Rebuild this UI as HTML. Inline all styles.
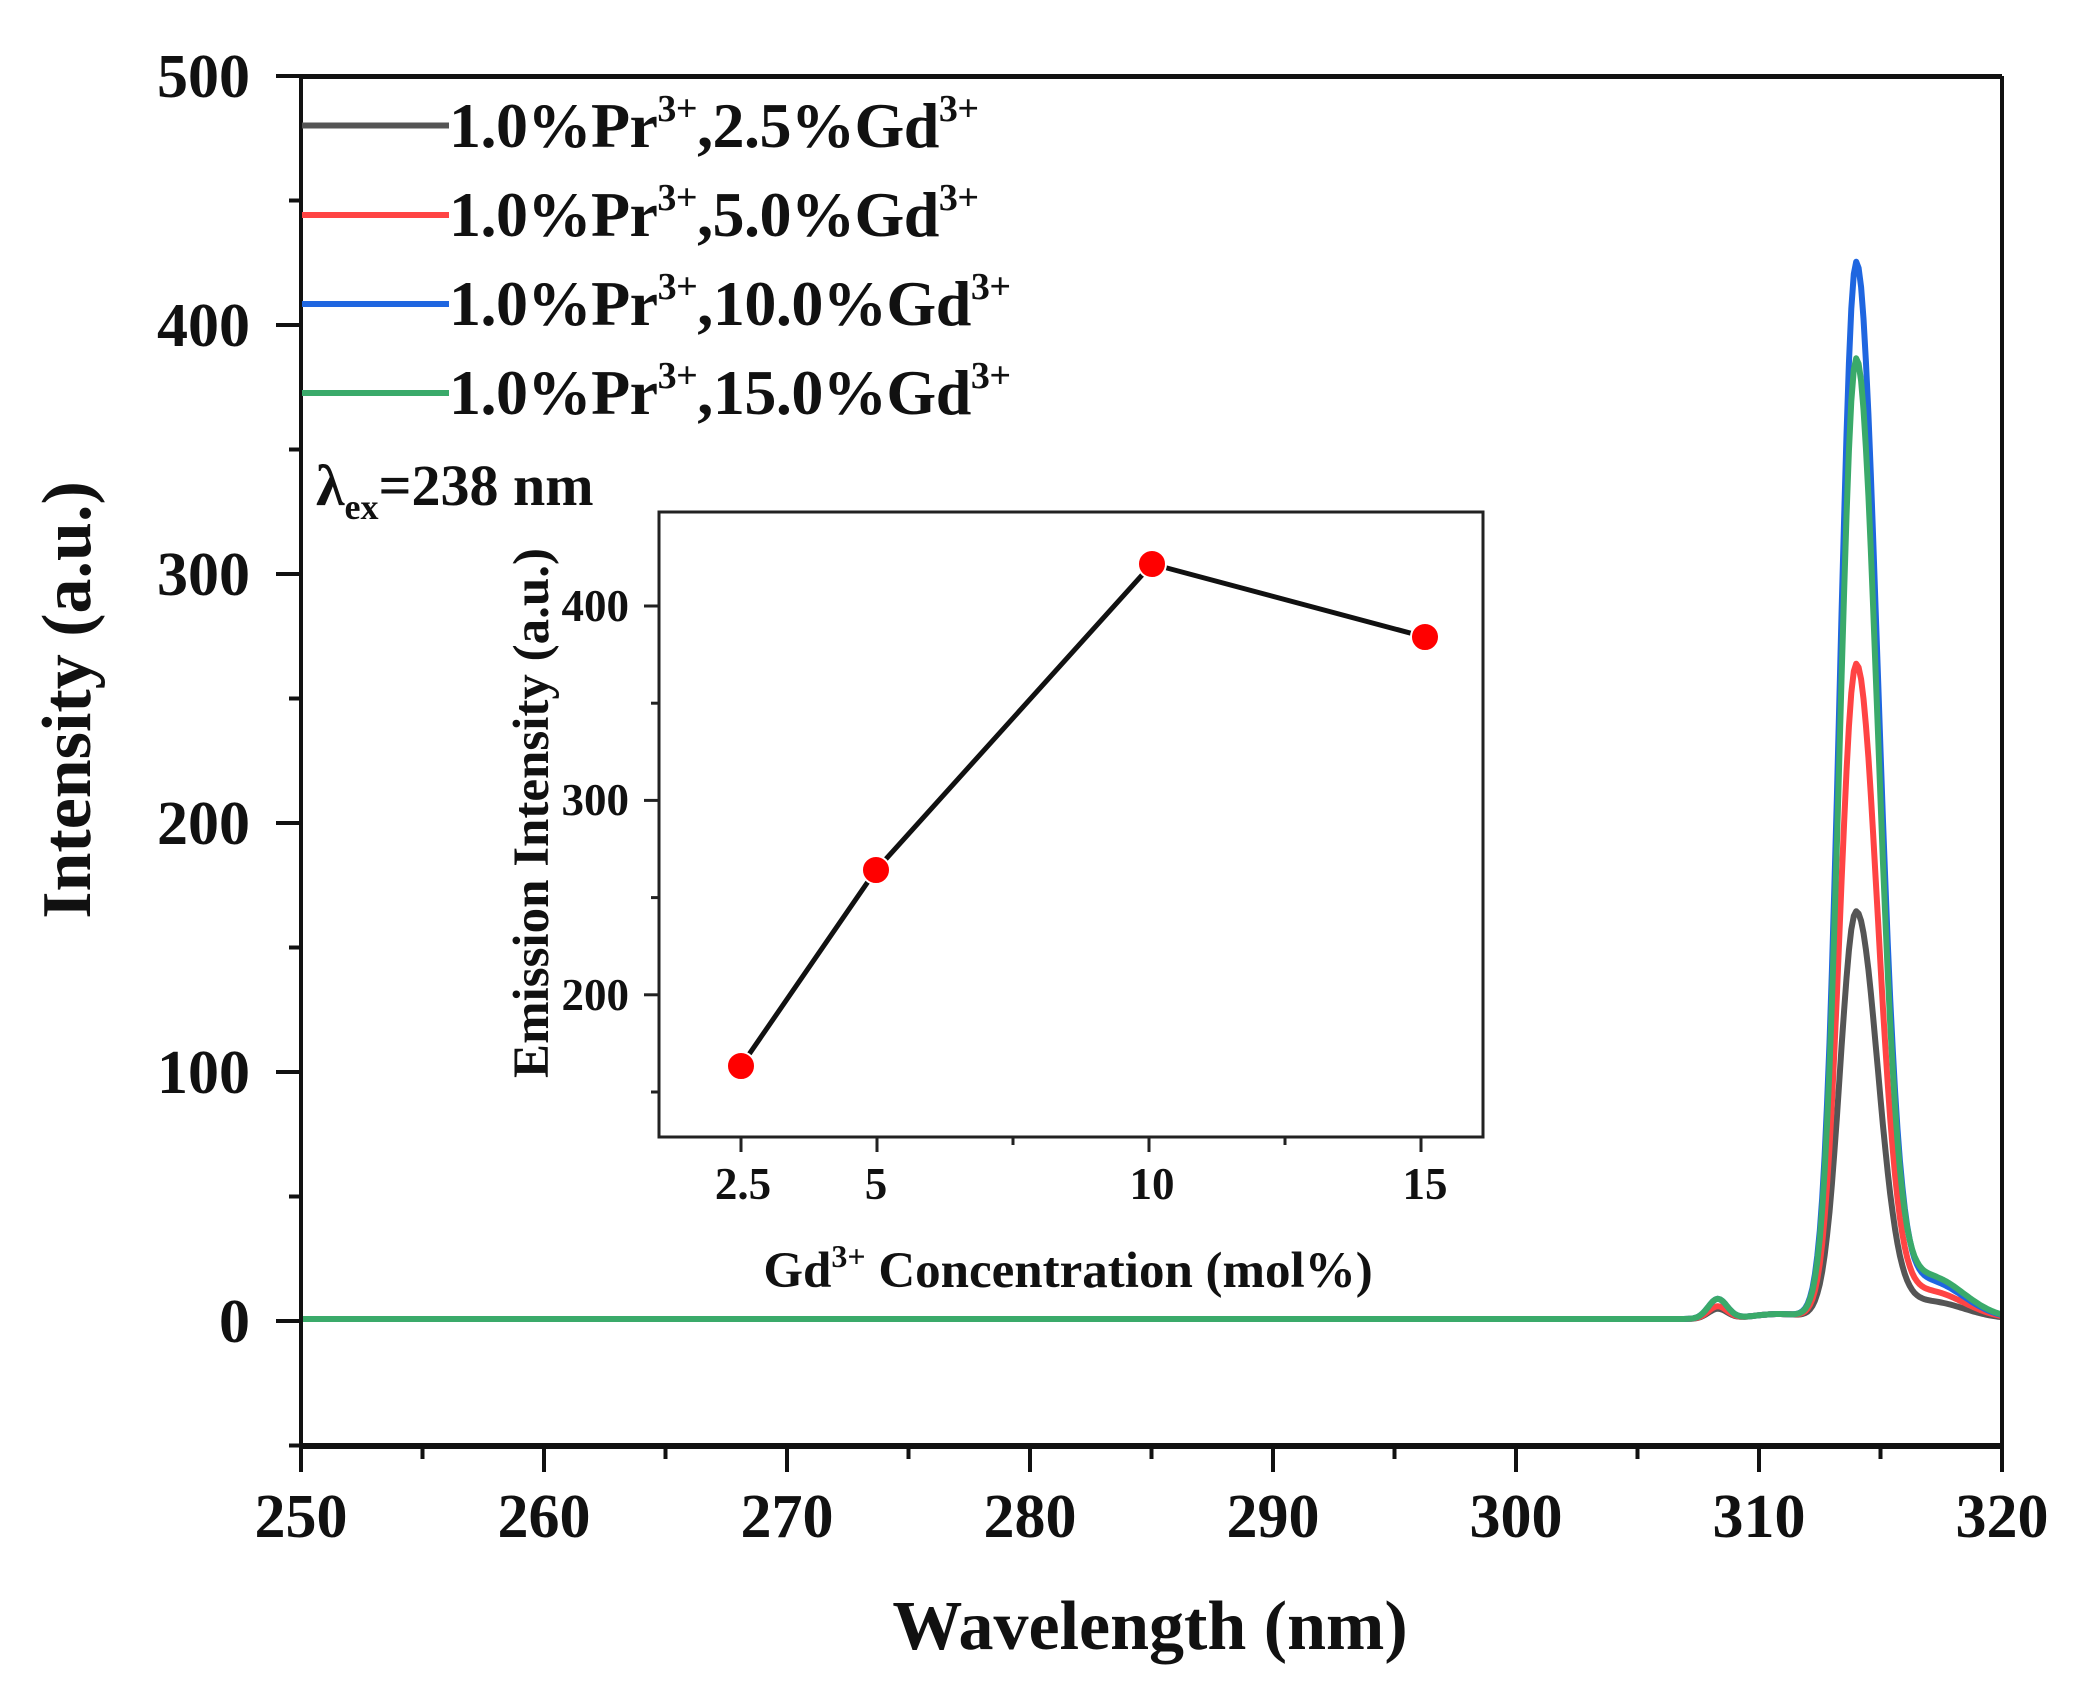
<!DOCTYPE html>
<html><head><meta charset="utf-8"><style>
html,body{margin:0;padding:0;background:#fff;}
svg{display:block;}
text{font-family:"Liberation Serif",serif;font-weight:bold;fill:#111;}
</style></head><body>
<svg id="s" width="2076" height="1692" viewBox="0 0 2076 1692" xmlns="http://www.w3.org/2000/svg">
<rect width="2076" height="1692" fill="#fff"/>
<g id="curves" fill="none" stroke-width="6" stroke-linejoin="round"></g>
<line x1="301" y1="76.5" x2="2002" y2="76.5" stroke="#111" stroke-width="5"/>
<line x1="2002" y1="76" x2="2002" y2="1448" stroke="#111" stroke-width="4"/>
<line x1="301" y1="76" x2="301" y2="1448" stroke="#111" stroke-width="4"/>
<line x1="299" y1="1446" x2="2004" y2="1446" stroke="#111" stroke-width="6"/>
<g id="ticks" stroke="#111" stroke-width="4"></g>
<g id="labels" font-size="62"></g>
<text x="0" y="0" font-size="70" text-anchor="middle" transform="translate(1150,1649)">Wavelength (nm)</text>
<text x="0" y="0" font-size="70" text-anchor="middle" transform="translate(90,700) rotate(-90)">Intensity (a.u.)</text>
<g stroke-width="6">
<line x1="302" y1="125.5" x2="449" y2="125.5" stroke="#555"/>
<line x1="302" y1="215" x2="449" y2="215" stroke="#f44"/>
<line x1="302" y1="304" x2="449" y2="304" stroke="#1f66e0"/>
<line x1="302" y1="393" x2="449" y2="393" stroke="#3aaa6a"/>
</g>
<g font-size="64">
<text x="449" y="147" textLength="530">1.0%Pr<tspan font-size="38" dy="-26">3+</tspan><tspan dy="26">,2.5%Gd</tspan><tspan font-size="38" dy="-26">3+</tspan></text>
<text x="449" y="236" textLength="530">1.0%Pr<tspan font-size="38" dy="-26">3+</tspan><tspan dy="26">,5.0%Gd</tspan><tspan font-size="38" dy="-26">3+</tspan></text>
<text x="449" y="325" textLength="562">1.0%Pr<tspan font-size="38" dy="-26">3+</tspan><tspan dy="26">,10.0%Gd</tspan><tspan font-size="38" dy="-26">3+</tspan></text>
<text x="449" y="414" textLength="562">1.0%Pr<tspan font-size="38" dy="-26">3+</tspan><tspan dy="26">,15.0%Gd</tspan><tspan font-size="38" dy="-26">3+</tspan></text>
</g>
<text x="316" y="505" font-size="58">λ<tspan font-size="36" dy="14">ex</tspan><tspan dy="-14">=238 nm</tspan></text>
<rect x="659" y="512" width="824" height="625" fill="none" stroke="#222" stroke-width="3"/>
<g id="itk" stroke="#222" stroke-width="3"></g>
<g font-size="45">
<text x="743" y="1199" text-anchor="middle">2.5</text>
<text x="876" y="1199" text-anchor="middle">5</text>
<text x="1152" y="1199" text-anchor="middle">10</text>
<text x="1425" y="1199" text-anchor="middle">15</text>
<text x="629" y="621" text-anchor="end">400</text>
<text x="629" y="815" text-anchor="end">300</text>
<text x="629" y="1010" text-anchor="end">200</text>
</g>
<text x="1068" y="1287" font-size="51" text-anchor="middle">Gd<tspan font-size="32" dy="-20">3+</tspan><tspan dy="20"> Concentration (mol%)</tspan></text>
<text x="0" y="0" font-size="51" text-anchor="middle" transform="translate(548,813) rotate(-90)">Emission Intensity (a.u.)</text>
<polyline points="741,1066 876,870 1152,564 1425,637" fill="none" stroke="#111" stroke-width="5"/>
<g fill="#f00" stroke="#fff" stroke-width="2">
<circle cx="741" cy="1066" r="14"/><circle cx="876" cy="870" r="14"/><circle cx="1152" cy="564" r="14"/><circle cx="1425" cy="637" r="14"/>
</g>
</svg>
<script>
var NS="http://www.w3.org/2000/svg";
function X(nm){return 301+(nm-250)*24.3;}
function Y(v){return 1321-v*2.49;}
function el(p,t,a){var e=document.createElementNS(NS,t);for(var k in a)e.setAttribute(k,a[k]);p.appendChild(e);return e;}
var tk=document.getElementById('ticks'),lb=document.getElementById('labels');
for(var n=250;n<=320;n+=5){var maj=n%10==0;el(tk,'line',{x1:X(n),y1:1446,x2:X(n),y2:maj?1472:1459});
 if(maj){var t=el(lb,'text',{x:X(n),y:1537,'text-anchor':'middle'});t.textContent=n;}}
for(var v=-50;v<=500;v+=50){var maj=v%100==0;el(tk,'line',{x1:maj?276:289,y1:Y(v),x2:301,y2:Y(v)});
 if(maj){var t=el(lb,'text',{x:250,y:Y(v)+21,'text-anchor':'end'});t.textContent=v;}}
var it=document.getElementById('itk');
[2.5,5,7.5,10,12.5,15].forEach(function(c){var x=741+(c-2.5)*54.4;var maj=(c==2.5||c==5||c==10||c==15);el(it,'line',{x1:x,y1:1137,x2:x,y2:maj?1152:1145});});
[150,200,250,300,350,400].forEach(function(v){var y=606+(400-v)*1.944;var maj=v%100==0;el(it,'line',{x1:maj?644:651,y1:y,x2:659,y2:y});});
var series=[["#3aaa6a",384,8,17],["#1f66e0",423,8,15],["#f44",262,5,11],["#555",163,4,7]];
var g=document.getElementById('curves');
[3,2,1,0].forEach(function(i){var s=series[i];var d="";
 for(var nm=250;nm<=320.001;nm+=0.1){
  var w=nm<314.0?0.95:1.25;
  var v=0.8+s[1]*Math.exp(-Math.pow((nm-314.0)/w,2))+s[2]*Math.exp(-Math.pow((nm-308.3)/0.55,2))
   +s[3]*Math.exp(-Math.pow((nm-317.0)/2.0,2))*(nm>314?1:Math.exp(-Math.pow((nm-314)/0.8,2)))+2*Math.exp(-Math.pow((nm-310.8)/1.5,2));
  d+=(d?"L":"M")+X(nm).toFixed(1)+","+Y(v).toFixed(1);}
 el(g,'path',{d:d,stroke:s[0]});});
</script>
</body></html>
